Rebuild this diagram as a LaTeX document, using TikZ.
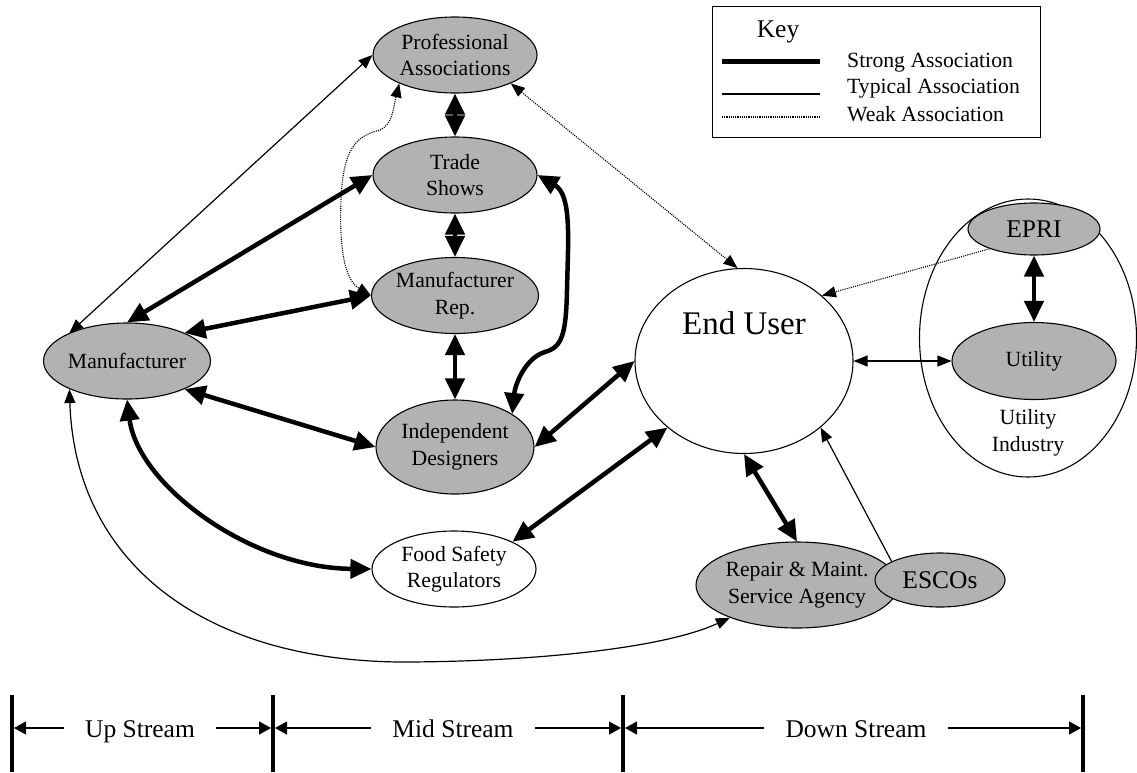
\documentclass[tikz,border=0pt]{standalone}
\usepackage{fontspec}
\setmainfont{Liberation Serif}
\usetikzlibrary{arrows.meta,shapes.geometric}
\newcommand\txtnormal{\fontsize{21.7}{26.5}\selectfont}
\newcommand\txtlarge{\fontsize{25.5}{30}\selectfont}
\newcommand\txthuge{\fontsize{33}{38}\selectfont}
\tikzset{
  bigtip/.tip={Triangle[length=21pt,width=19pt]},
  smalltip/.tip={Triangle[length=14pt,width=11pt]},
  bartip/.tip={Triangle[length=12pt,width=13pt]},
  entity/.style={ellipse, draw, line width=1.1pt, inner sep=0pt, align=center, font=\txtnormal},
  shaded/.style={entity, fill=black!30},
  strong/.style={line width=4.5pt, bigtip-bigtip},
  typical/.style={line width=1.2pt},
  weak/.style={line width=1.1pt, dash pattern=on 1.1pt off 1.1pt},
  streambar/.style={line width=4pt},
  streamlabel/.style={font=\txtlarge, inner xsep=21pt, inner ysep=0pt, text height=18pt, text depth=0pt},
  streamline/.style={line width=1.2pt, -bartip},
  keytext/.style={font=\txtnormal, anchor=base west, inner sep=0pt},
}
\begin{document}
\begin{tikzpicture}[x=1pt, y=-1pt]
\useasboundingbox (0,0) rectangle (1137,772);

% ---- utility industry group ----
\node[entity, minimum width=217, minimum height=278,
      label={[font=\txtnormal, align=center, yshift=-95pt]center:Utility\\Industry}] (ui) at (1028,338) {};

% ---- entities ----
\node[shaded, minimum width=164, minimum height=76] (pa) at (455,55) {Professional\\Associations};
\node[shaded, minimum width=164, minimum height=76] (ts) at (455,175) {Trade\\Shows};
\node[shaded, minimum width=164, minimum height=76] (mr) at (455,295.5) {Manufacturer\\Rep.};
\node[shaded, minimum width=158, minimum height=94] (id) at (455,447) {Independent\\Designers};
\node[shaded, minimum width=164, minimum height=76] (mf) at (127,361) {Manufacturer};
\node[entity, fill=white, minimum width=164, minimum height=76] (fs) at (454,569) {Food Safety\\Regulators};
\node[entity, minimum width=218, minimum height=185,
      label={[font=\txthuge, yshift=38pt]center:End User}] (eu) at (744,361) {};
\node[shaded, minimum width=132, minimum height=52, font=\txtlarge] (epri) at (1034,229) {EPRI};
\node[shaded, minimum width=164, minimum height=77] (ut) at (1034,361) {Utility};
\node[shaded, minimum width=190, minimum height=86] (rm) at (797,585) {Repair \& Maint.\\Service Agency};
\node[shaded, minimum width=130, minimum height=54, font=\txtlarge] (es) at (940,580) {ESCOs};

% ---- strong associations ----
\draw[strong] (pa.south) -- (ts.north);
\draw[strong] (ts.south) -- (mr.north);
\draw[strong] (mr.south) -- (id.north);
\draw[strong] (mf.north) -- (ts.west);
\draw[strong] (mf.26) -- (mr.west);
\draw[strong] (mf.-26) -- (id.west);
\draw[strong] (mf.south) .. controls (138,485) and (250,568) .. (fs.west);
\draw[strong] (ts.east) .. controls (572,195) and (568,240) .. (567,290)
                        .. controls (566,335) and (562,347) .. (545,352)
                        .. controls (525,358) and (515,385) .. (id.30);
\draw[strong] (id.east) -- (eu.west);
\draw[strong] (fs.25) -- (eu.221);
\draw[strong] (eu.south) -- (rm.north);
\draw[strong] (epri.south) -- (ut.north);

% ---- typical associations ----
\draw[typical, smalltip-smalltip] (mf.154) -- (pa.west);
\draw[typical, smalltip-smalltip] (mf.206) .. controls (75,560) and (200,660) .. (400,662)
                                   .. controls (520,662) and (660,650) .. (rm.206);
\draw[typical, smalltip-smalltip] (eu.east) -- (ut.west);
\draw[typical, -smalltip] (es.159) -- (eu.-41);

% ---- weak associations ----
\draw[weak, smalltip-smalltip] (pa.207) .. controls (393,110) and (392,125) .. (380,130)
                               .. controls (355,136) and (343,150) .. (341,200)
                               .. controls (339,250) and (345,280) .. (mr.west);
\draw[weak, smalltip-smalltip] (pa.-27) -- (eu.94);
\draw[weak, -smalltip] (epri.204) -- (eu.40);

% ---- key ----
\node[draw, line width=1.2pt, minimum width=328, minimum height=131, anchor=north west, inner sep=0pt] (keybox) at (712,6) {};
\node[font=\txtlarge, anchor=base, inner sep=0pt] (keytitle) at (778,37) {Key};
\draw[line width=5pt] (722,61) -- (820,61);
\draw[typical] (722,94) -- (820,94);
\draw[weak] (722,117) -- (820,117);
\node[keytext] (kstrong) at (847,67) {Strong Association};
\node[keytext] (ktypical) at (847,93) {Typical Association};
\node[keytext] (kweak) at (847,121) {Weak Association};

% ---- supply chain stages ----
\draw[streambar] (12,695) -- (12,772);
\draw[streambar] (273,695) -- (273,772);
\draw[streambar] (623,695) -- (623,772);
\draw[streambar] (1083,695) -- (1083,772);
\coordinate (b1) at (14,728);
\coordinate (b2l) at (271,728);
\coordinate (b2r) at (275,728);
\coordinate (b3l) at (621,728);
\coordinate (b3r) at (625,728);
\coordinate (b4) at (1081,728);
\node[streamlabel] (up) at (140,728) {Up Stream};
\node[streamlabel] (mid) at (453,728) {Mid Stream};
\node[streamlabel] (down) at (856,728) {Down Stream};
\draw[streamline] (up.west) -- (b1);
\draw[streamline] (up.east) -- (b2l);
\draw[streamline] (mid.west) -- (b2r);
\draw[streamline] (mid.east) -- (b3l);
\draw[streamline] (down.west) -- (b3r);
\draw[streamline] (down.east) -- (b4);
\end{tikzpicture}
\end{document}
